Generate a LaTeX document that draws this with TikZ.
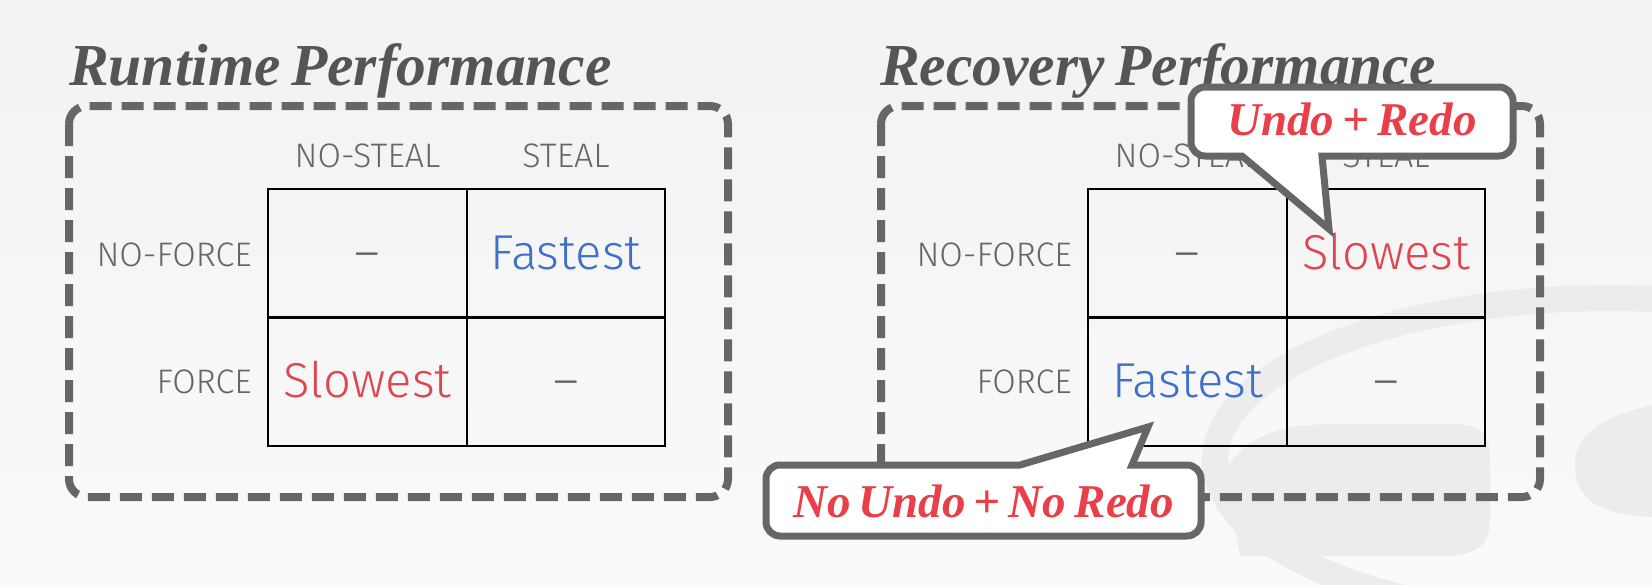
\documentclass[tikz,border=0pt]{standalone}
\usepackage{fontspec}
\IfFontExistsTF{Fira Sans Light}{\newfontfamily\lightsans{Fira Sans Light}}{%
  \IfFontExistsTF{Lato Light}{\newfontfamily\lightsans{Lato Light}}{\newfontfamily\lightsans{Fira Sans}}}
\newfontfamily\titlefont{Liberation Serif}[WordSpace=0.7]
\definecolor{bgtop}{HTML}{F2F2F2}
\definecolor{bgbot}{HTML}{FAFAFA}
\definecolor{logogray}{HTML}{ECECEC}
\definecolor{boxgray}{HTML}{666666}
\definecolor{txtgray}{HTML}{666666}
\definecolor{titlegray}{HTML}{555555}
\definecolor{fastblue}{HTML}{3D6FCB}
\definecolor{slowred}{HTML}{E0444E}
\definecolor{calred}{HTML}{E83F48}
\tikzset{
  dashbox/.style={draw=boxgray, line width=8pt, dash pattern=on 22pt off 10pt, rounded corners=18pt},
  gridline/.style={draw=black, line width=2.5pt},
  hdr/.style={font=\lightsans\fontsize{34}{40}\selectfont, text=txtgray, anchor=base, inner sep=0pt},
  rowlbl/.style={hdr, anchor=base east},
  cell/.style={font=\lightsans\fontsize{49}{58}\selectfont, anchor=base, inner sep=0pt},
  ttl/.style={font=\titlefont\bfseries\itshape\fontsize{59.5}{70}\selectfont, text=titlegray, anchor=base west, inner sep=0pt},
  callout/.style={draw=boxgray, line width=7pt, fill=white, line join=miter},
  calltxt/.style={font=\titlefont\bfseries\itshape\fontsize{47}{56}\selectfont, text=calred, anchor=base, inner sep=0pt},
  logo/.style={fill=logogray},
}
\begin{document}
\begin{tikzpicture}[x=1pt,y=-1pt]
\useasboundingbox (0,0) rectangle (1652,584);
\shade[top color=bgtop, bottom color=bgbot] (0,0) rectangle (1652,584);
% faint background logo
\begin{scope}
  \clip (0,0) rectangle (1652,584);
  \fill[logo] (1225,470) .. controls (1250,430) and (1290,425) .. (1330,424) -- (1450,424) .. controls (1490,424) and (1490,440) .. (1490,470) -- (1490,520) .. controls (1490,550) and (1470,556) .. (1440,556) -- (1240,556) -- cycle;
  \draw[draw=logogray, line width=26pt] (1610,460) ellipse [x radius=395, y radius=162];
  \fill[logo] (1652,405) .. controls (1610,415) and (1575,430) .. (1575,465) .. controls (1575,500) and (1600,515) .. (1652,517) -- cycle;
\end{scope}
% dashed frames
\draw[dashbox] (69,106) rectangle (728,497);
\draw[dashbox] (881,106) rectangle (1540,497);
% titles
\node[ttl] (t1) at (69,85) {Runtime Performance};
\node[ttl] (t2) at (880,85) {Recovery Performance};
% left table
\draw[gridline] (268,189) rectangle (665,446);
\draw[gridline] (467,189) -- (467,446);
\draw[gridline] (268,317.5) -- (665,317.5);
\node[hdr] (lh1) at (367.5,167) {NO-STEAL};
\node[hdr] (lh2) at (566,167) {STEAL};
\node[rowlbl] (lr1) at (252,266) {NO-FORCE};
\node[rowlbl] (lr2) at (252,393) {FORCE};
\node[cell, text=txtgray] (lc11) at (367.5,269) {–};
\node[cell, text=fastblue] (lc12) at (566,269) {Fastest};
\node[cell, text=slowred] (lc21) at (367.5,397) {Slowest};
\node[cell, text=txtgray] (lc22) at (566,397) {–};
% right table
\draw[gridline] (1088,189) rectangle (1485,446);
\draw[gridline] (1287,189) -- (1287,446);
\draw[gridline] (1088,317.5) -- (1485,317.5);
\node[hdr] (rh1) at (1187.5,167) {NO-STEAL};
\node[hdr] (rh2) at (1386,167) {STEAL};
\node[rowlbl] (rr1) at (1072,266) {NO-FORCE};
\node[rowlbl] (rr2) at (1072,393) {FORCE};
\node[cell, text=txtgray] (rc11) at (1187.5,269) {–};
\node[cell, text=slowred] (rc12) at (1386,269) {Slowest};
\node[cell, text=fastblue] (rc21) at (1187.5,397) {Fastest};
\node[cell, text=txtgray] (rc22) at (1386,397) {–};
% callout 1
\draw[callout] (1205,87) -- (1499,87) .. controls +(7.7,0) and +(0,-7.7) .. (1513,101) -- (1513,142) .. controls +(0,7.7) and +(7.7,0) .. (1499,156) -- (1322,156) -- (1329,229) -- (1242,156) -- (1205,156) .. controls +(-7.7,0) and +(0,7.7) .. (1191,142) -- (1191,101) .. controls +(0,-7.7) and +(-7.7,0) .. (1205,87) -- cycle;
\node[calltxt] (c1) at (1352,135) {Undo + Redo};
% callout 2
\draw[callout] (780,465) -- (1020,465) -- (1148,427) -- (1132,465) -- (1187,465) .. controls +(7.7,0) and +(0,-7.7) .. (1201,479) -- (1201,522) .. controls +(0,7.7) and +(7.7,0) .. (1187,536) -- (780,536) .. controls +(-7.7,0) and +(0,7.7) .. (766,522) -- (766,479) .. controls +(0,-7.7) and +(-7.7,0) .. (780,465) -- cycle;
\node[calltxt] (c2) at (983.5,517) {No Undo + No Redo};
\end{tikzpicture}
\end{document}
